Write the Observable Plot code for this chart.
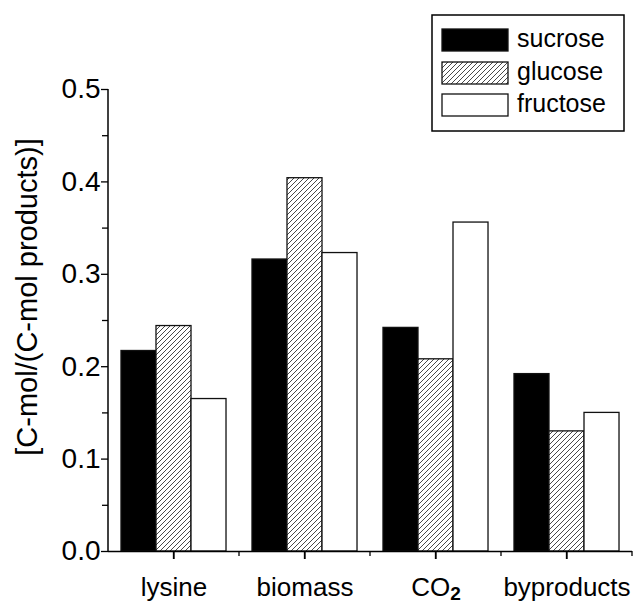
<!DOCTYPE html>
<html><head><meta charset="utf-8">
<script src="https://cdn.jsdelivr.net/npm/d3@7"></script>
<script src="https://cdn.jsdelivr.net/npm/@observablehq/plot@0.6"></script>
<style>
html,body{margin:0;padding:0;background:#fff;}
#chart{position:relative;width:633px;height:605px;}
</style></head><body><div id="chart"></div>
<script>
const categories = ["lysine", "biomass", "CO2", "byproducts"];
const sugars = ["sucrose", "glucose", "fructose"];
const sucrose = [0.217, 0.316, 0.242, 0.192];
const glucose = [0.244, 0.404, 0.208, 0.130];
const fructose = [0.165, 0.323, 0.356, 0.150];
const yTicks = [0, 0.1, 0.2, 0.3, 0.4, 0.5];
const yMinorTicks = [0.05, 0.15, 0.25, 0.35, 0.45];
const yLabel = "[C-mol/(C-mol products)]";

const seriesValues = [sucrose, glucose, fructose];
const rows = [];
categories.forEach((c, i) => sugars.forEach((s, j) => rows.push({category: c, sugar: s, value: seriesValues[j][i]})));

const font = '"Liberation Sans", Arial, Helvetica, sans-serif';

const plot = Plot.plot({
  width: 633, height: 605,
  marginLeft: 107, marginRight: 1, marginTop: 89, marginBottom: 54,
  style: {fontFamily: font, background: "#fff", color: "#000"},
  fx: {domain: categories, padding: 0, label: null, axis: null},
  x: {domain: sugars, axis: null, paddingInner: 0, paddingOuter: 0.371, round: false},
  y: {domain: [0, 0.5]},
  color: {domain: sugars, range: ["#000", "url(#hatch)", "#fff"]},
  marks: [
    Plot.barY(rows, {fx: "category", x: "sugar", y: "value", fill: "sugar", stroke: "#111", strokeWidth: 1.3}),
    Plot.ruleY([0], {stroke: "#000", strokeWidth: 1.5}),
    Plot.axisY({ticks: yTicks, tickFormat: d3.format(".1f"), tickSize: 7, tickPadding: 1, fontSize: 28, label: null, strokeWidth: 1.3}),
    Plot.axisY({ticks: yMinorTicks, tickFormat: () => "", tickSize: 6, label: null, strokeWidth: 1.3}),
    Plot.axisFx({anchor: "bottom", tickSize: 8, tickPadding: 18, fontSize: 26, label: null, strokeWidth: 1.3})
  ]
});

const svg = d3.select(plot);
const defs = svg.insert("defs", ":first-child");
const pat = defs.append("pattern").attr("id", "hatch").attr("patternUnits", "userSpaceOnUse")
  .attr("width", 5).attr("height", 5);
pat.append("rect").attr("width", 5).attr("height", 5).attr("fill", "#fff");
pat.append("path").attr("d", "M-1,1 l2,-2 M0,5 l5,-5 M4,6 l2,-2").attr("stroke", "#333").attr("stroke-width", 0.9);

const fx = plot.scale("fx");
const y = plot.scale("y");
const y0 = y.apply(0), y1 = y.apply(0.5);
const xLeft = fx.apply(categories[0]);
// left axis line
svg.append("line").attr("x1", xLeft).attr("x2", xLeft).attr("y1", y1).attr("y2", y0 + 0.75)
  .attr("stroke", "#000").attr("stroke-width", 1.5);
// major ticks at category centres, minor ticks at category boundaries
categories.forEach(c => {
  const xc = fx.apply(c) + fx.bandwidth / 2;
  svg.append("line").attr("x1", xc).attr("x2", xc).attr("y1", y0).attr("y2", y0 + 8)
    .attr("stroke", "#000").attr("stroke-width", 1.3);
  const xb = fx.apply(c) + fx.bandwidth;
  svg.append("line").attr("x1", xb).attr("x2", xb).attr("y1", y0).attr("y2", y0 + 5)
    .attr("stroke", "#000").attr("stroke-width", 1.3);
});
// subscript for CO2
svg.selectAll("text").each(function() {
  if (this.textContent === "CO2" && this.childElementCount === 0) {
    const t = d3.select(this);
    t.text("CO");
    t.append("tspan").attr("dy", "0.2em").attr("font-size", 19).attr("font-weight", "bold").text("2");
  }
});
// y label
svg.append("text").attr("transform", "translate(37,297) rotate(-90)").attr("text-anchor", "middle")
  .attr("font-size", 29).attr("font-family", font).attr("fill", "#000").text(yLabel);

// legend
const lg = svg.append("g").attr("font-family", font).attr("font-size", 25).attr("text-anchor", "start");
lg.append("rect").attr("x", 432).attr("y", 15).attr("width", 192).attr("height", 116)
  .attr("fill", "#fff").attr("stroke", "#000").attr("stroke-width", 1.5);
const swFill = plot.scale("color");
sugars.forEach((s, i) => {
  const top = [29, 62, 94][i];
  lg.append("rect").attr("x", 442).attr("y", top).attr("width", 66).attr("height", 22)
    .attr("fill", swFill.apply(s)).attr("stroke", "#111").attr("stroke-width", 1.3);
  lg.append("text").attr("x", 517).attr("y", top + 11).attr("dy", 6.5).attr("fill", "#000").text(s);
});

document.getElementById("chart").appendChild(plot);
</script></body></html>
